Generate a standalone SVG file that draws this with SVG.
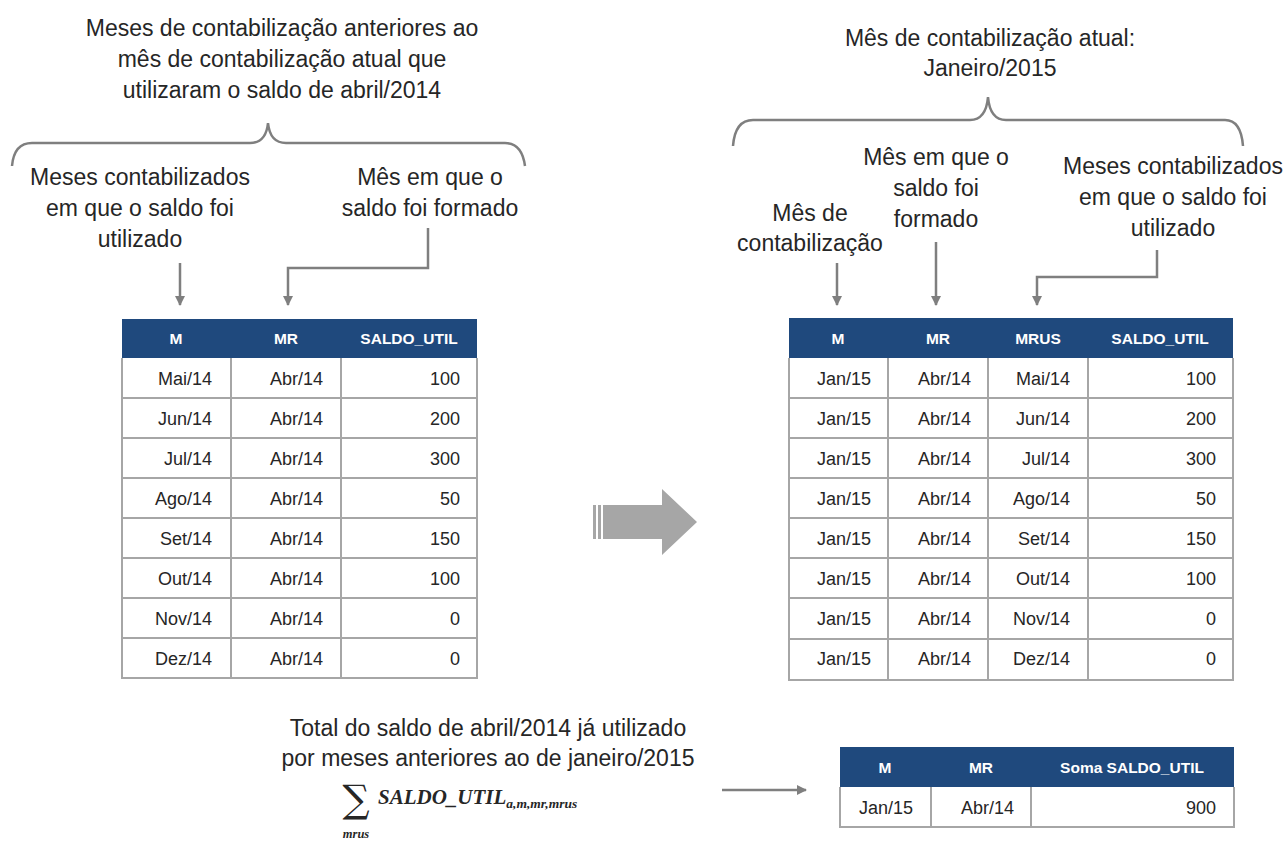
<svg xmlns="http://www.w3.org/2000/svg" width="1287" height="859" viewBox="0 0 1287 859">
<style>
.lbl{font-family:"Liberation Sans",Arial,sans-serif;font-size:23px;fill:#262626;text-anchor:middle}
.hdr{fill:#1f497d}
.ht{font-family:"Liberation Sans",Arial,sans-serif;font-size:15.5px;font-weight:bold;fill:#ffffff;text-anchor:middle}
.ct{font-family:"Liberation Sans",Arial,sans-serif;font-size:18px;fill:#262626;text-anchor:end}
.grid{stroke:#a6a6a6;stroke-width:2;fill:none}
.con{stroke:#7f7f7f;stroke-width:2.5;fill:none}
.brace{stroke:#7f7f7f;stroke-width:2.5;fill:none}
.math{font-family:"Liberation Serif","DejaVu Serif",serif;font-weight:bold;font-style:italic;fill:#262626}
</style>
<defs>
<marker id="ah" viewBox="0 0 10 10" refX="9" refY="5" markerWidth="4" markerHeight="4" orient="auto" markerUnits="strokeWidth">
<path d="M0,0 L10,5 L0,10 z" fill="#7f7f7f"/>
</marker>
</defs>
<rect width="1287" height="859" fill="#ffffff"/>

<g id="title-left">
<text class="lbl" x="282" y="36">Meses de contabilização anteriores ao</text>
<text class="lbl" x="282" y="67">mês de contabilização atual que</text>
<text class="lbl" x="282" y="98">utilizaram o saldo de abril/2014</text>
</g>
<g id="brace-left">
<path class="brace" d="M12,166 Q14,143 32,143 H250 Q266,143 268,123 Q270,143 286,143 H505 Q522,143 525,166"/>
</g>
<g id="label-left-m">
<text class="lbl" x="140" y="185">Meses contabilizados</text>
<text class="lbl" x="140" y="216">em que o saldo foi</text>
<text class="lbl" x="140" y="247">utilizado</text>
</g>
<g id="label-left-mr">
<text class="lbl" x="430" y="185">Mês em que o</text>
<text class="lbl" x="430" y="216">saldo foi formado</text>
</g>

<g id="title-right">
<text class="lbl" x="990" y="46">Mês de contabilização atual:</text>
<text class="lbl" x="990" y="76">Janeiro/2015</text>
</g>
<g id="brace-right">
<path class="brace" d="M733,146 Q735,120 753,120 H970 Q986,120 988,97 Q990,120 1006,120 H1225 Q1241,120 1243,146"/>
</g>
<g id="label-right-m">
<text class="lbl" x="810" y="221">Mês de</text>
<text class="lbl" x="810" y="251">contabilização</text>
</g>
<g id="label-right-mr">
<text class="lbl" x="936" y="165">Mês em que o</text>
<text class="lbl" x="936" y="196">saldo foi</text>
<text class="lbl" x="936" y="227">formado</text>
</g>
<g id="label-right-mrus">
<text class="lbl" x="1173" y="174">Meses contabilizados</text>
<text class="lbl" x="1173" y="205">em que o saldo foi</text>
<text class="lbl" x="1173" y="236">utilizado</text>
</g>

<g id="connectors">
<path class="con" d="M180,263 V305" marker-end="url(#ah)"/>
<path class="con" d="M428,228 V268 H288 V305" marker-end="url(#ah)"/>
<path class="con" d="M837,263 V305" marker-end="url(#ah)"/>
<path class="con" d="M936,242 V305" marker-end="url(#ah)"/>
<path class="con" d="M1157,250 V277 H1037 V305" marker-end="url(#ah)"/>
<path class="con" d="M722,790 H806" marker-end="url(#ah)"/>
</g>

<g id="table-left">
<rect class="hdr" x="122" y="319" width="355" height="39"/>
<text class="ht" x="176" y="344">M</text>
<text class="ht" x="286" y="344">MR</text>
<text class="ht" x="409" y="344">SALDO_UTIL</text>
<path class="grid" d="M122,358 V678 H477 V358 M231,358 V678 M341,358 V678 M122,398 H477 M122,438 H477 M122,478 H477 M122,518 H477 M122,558 H477 M122,598 H477 M122,638 H477"/>
<g>
<text class="ct" x="212" y="385">Mai/14</text><text class="ct" x="323" y="385">Abr/14</text><text class="ct" x="460" y="385">100</text>
<text class="ct" x="212" y="425">Jun/14</text><text class="ct" x="323" y="425">Abr/14</text><text class="ct" x="460" y="425">200</text>
<text class="ct" x="212" y="465">Jul/14</text><text class="ct" x="323" y="465">Abr/14</text><text class="ct" x="460" y="465">300</text>
<text class="ct" x="212" y="505">Ago/14</text><text class="ct" x="323" y="505">Abr/14</text><text class="ct" x="460" y="505">50</text>
<text class="ct" x="212" y="545">Set/14</text><text class="ct" x="323" y="545">Abr/14</text><text class="ct" x="460" y="545">150</text>
<text class="ct" x="212" y="585">Out/14</text><text class="ct" x="323" y="585">Abr/14</text><text class="ct" x="460" y="585">100</text>
<text class="ct" x="212" y="625">Nov/14</text><text class="ct" x="323" y="625">Abr/14</text><text class="ct" x="460" y="625">0</text>
<text class="ct" x="212" y="665">Dez/14</text><text class="ct" x="323" y="665">Abr/14</text><text class="ct" x="460" y="665">0</text>
</g>
</g>

<g id="big-arrow">
<rect x="593" y="505" width="3" height="34" fill="#a6a6a6"/>
<rect x="598" y="505" width="3" height="34" fill="#a6a6a6"/>
<polygon points="603,505 662,505 662,489 697,522 662,555 662,539 603,539" fill="#a6a6a6"/>
</g>

<g id="table-right">
<rect class="hdr" x="789" y="318" width="444" height="40"/>
<text class="ht" x="838" y="344">M</text>
<text class="ht" x="938" y="344">MR</text>
<text class="ht" x="1038" y="344">MRUS</text>
<text class="ht" x="1160" y="344">SALDO_UTIL</text>
<path class="grid" d="M789,358 V680 H1233 V358 M888,358 V680 M988,358 V680 M1088,358 V680 M789,398 H1233 M789,438 H1233 M789,478 H1233 M789,518 H1233 M789,558 H1233 M789,598 H1233 M789,639 H1233"/>
<g>
<text class="ct" x="871" y="385">Jan/15</text><text class="ct" x="971" y="385">Abr/14</text><text class="ct" x="1070" y="385">Mai/14</text><text class="ct" x="1216" y="385">100</text>
<text class="ct" x="871" y="425">Jan/15</text><text class="ct" x="971" y="425">Abr/14</text><text class="ct" x="1070" y="425">Jun/14</text><text class="ct" x="1216" y="425">200</text>
<text class="ct" x="871" y="465">Jan/15</text><text class="ct" x="971" y="465">Abr/14</text><text class="ct" x="1070" y="465">Jul/14</text><text class="ct" x="1216" y="465">300</text>
<text class="ct" x="871" y="505">Jan/15</text><text class="ct" x="971" y="505">Abr/14</text><text class="ct" x="1070" y="505">Ago/14</text><text class="ct" x="1216" y="505">50</text>
<text class="ct" x="871" y="545">Jan/15</text><text class="ct" x="971" y="545">Abr/14</text><text class="ct" x="1070" y="545">Set/14</text><text class="ct" x="1216" y="545">150</text>
<text class="ct" x="871" y="585">Jan/15</text><text class="ct" x="971" y="585">Abr/14</text><text class="ct" x="1070" y="585">Out/14</text><text class="ct" x="1216" y="585">100</text>
<text class="ct" x="871" y="625">Jan/15</text><text class="ct" x="971" y="625">Abr/14</text><text class="ct" x="1070" y="625">Nov/14</text><text class="ct" x="1216" y="625">0</text>
<text class="ct" x="871" y="665">Jan/15</text><text class="ct" x="971" y="665">Abr/14</text><text class="ct" x="1070" y="665">Dez/14</text><text class="ct" x="1216" y="665">0</text>
</g>
</g>

<g id="total-text">
<text class="lbl" x="488" y="736">Total do saldo de abril/2014 já utilizado</text>
<text class="lbl" x="488" y="766">por meses anteriores ao de janeiro/2015</text>
</g>
<g id="formula">
<text x="356" y="812" font-family="'DejaVu Serif','Liberation Serif',serif" font-size="38" fill="#262626" text-anchor="middle">∑</text>
<text class="math" x="356" y="838" font-size="12.5" text-anchor="middle">mrus</text>
<text class="math" x="378" y="804" font-size="21">SALDO_UTIL<tspan font-size="13.5" dy="4">a,m,mr,mrus</tspan></text>
</g>

<g id="table-sum">
<rect class="hdr" x="840" y="747" width="394" height="40"/>
<text class="ht" x="885" y="773">M</text>
<text class="ht" x="981" y="773">MR</text>
<text class="ht" x="1132" y="773">Soma SALDO_UTIL</text>
<path class="grid" d="M840,787 V827 H1234 V787 M931,787 V827 M1031,787 V827"/>
<text class="ct" x="913" y="814">Jan/15</text>
<text class="ct" x="1014" y="814">Abr/14</text>
<text class="ct" x="1216" y="814">900</text>
</g>
</svg>
